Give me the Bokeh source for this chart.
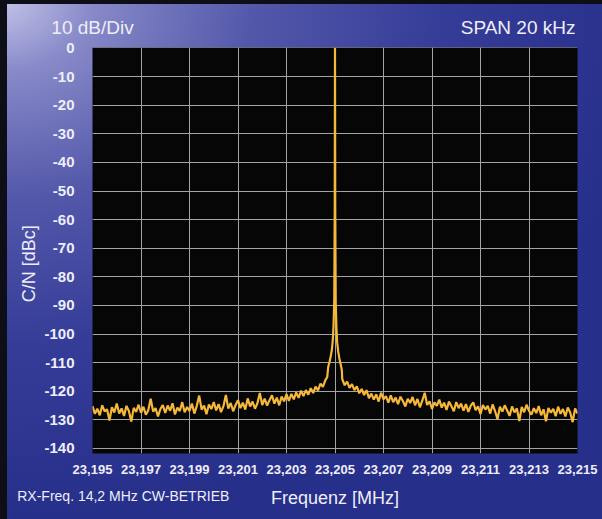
import math
from bokeh.plotting import figure
from bokeh.models import Range1d, FixedTicker, CustomJSTickFormatter, LinearAxis
from bokeh.embed import file_html
from bokeh.resources import INLINE

# ---- data ----
x_ticks = [23.195, 23.197, 23.199, 23.201, 23.203, 23.205, 23.207, 23.209, 23.211, 23.213, 23.215]
y_ticks = [0, -10, -20, -30, -40, -50, -60, -70, -80, -90, -100, -110, -120, -130, -140]

# noise floor left of the carrier: bins from 23.1950 MHz, 0.0001 MHz apart
left_start = 23.1950
bin_step = 0.0001
left_level = [
    -125.2, -127.9, -126.1, -128.4, -124.9, -127.0, -126.3, -130.2, -125.6, -127.4,
    -124.3, -127.8, -126.0, -128.6, -125.1, -126.9, -130.6, -125.8, -127.2, -124.7,
    -127.5, -125.4, -128.2, -126.6, -122.6, -127.1, -125.9, -128.8, -126.2, -124.8,
    -127.6, -125.0, -126.8, -124.2, -128.1, -125.7, -126.9, -123.8, -127.3, -125.5,
    -126.9, -124.3, -127.8, -125.1, -121.5, -126.4, -125.0, -128.0, -124.6, -126.2,
    -123.8, -126.7, -124.5, -127.3, -125.2, -121.3, -126.0, -124.1, -127.0, -124.8,
    -123.1, -125.9, -124.0, -126.4, -122.5, -125.3, -123.6, -126.1, -124.2, -120.6,
    -124.8, -122.6, -125.0, -123.1, -121.4, -124.3, -122.2, -124.9, -121.8, -123.5,
    -121.0, -123.4, -120.9, -122.8, -120.4, -122.3, -119.8, -121.7, -119.6, -121.2,
    -118.9, -120.6, -118.4, -119.7, -117.3, -118.5, -116.2,
]

# carrier and close-in skirt
carrier_freq = [23.20468, 23.20472, 23.20478, 23.20483, 23.20487, 23.20491, 23.20494, 23.20497, 23.20499,
                23.20500,
                23.20501, 23.20503, 23.20506, 23.20509, 23.20513, 23.20518, 23.20523, 23.20528]
carrier_level = [-115.0, -111.5, -109.5, -107.5, -105.5, -102.0, -97.0, -88.0, -55.0,
                 0.0,
                 -55.0, -89.0, -98.0, -103.0, -106.0, -108.5, -110.5, -112.5]

# noise floor right of the carrier: bins from 23.2053 MHz
right_start = 23.2053
right_level = [
    -115.8, -117.9, -116.6, -118.8, -117.5, -119.6, -118.3, -120.7, -119.2, -121.3,
    -119.6, -122.4, -120.8, -122.9, -121.1, -123.6, -120.5, -122.8, -121.7, -124.0,
    -121.4, -123.8, -122.2, -124.5, -121.9, -123.4, -125.3, -122.6, -124.1, -122.0,
    -124.9, -122.7, -125.6, -123.3, -120.5, -124.8, -123.5, -126.2, -123.9, -125.1,
    -122.9, -125.7, -124.0, -126.5, -123.6, -125.2, -127.0, -123.8, -125.9, -124.3,
    -126.8, -124.5, -127.2, -125.0, -123.9, -126.6, -125.3, -127.9, -124.8, -126.4,
    -125.1, -127.8, -124.6, -126.9, -129.8, -125.4, -127.1, -124.9, -126.7, -128.6,
    -125.3, -127.4, -126.0, -130.4, -125.5, -127.3, -124.7, -126.8, -128.2, -125.9,
    -127.6, -125.2, -128.4, -126.3, -130.5, -125.8, -127.5, -126.1, -128.7, -125.4,
    -127.9, -126.2, -128.8, -125.7, -127.4, -130.8, -126.0, -127.8,
]

left_freq = [left_start + i * bin_step for i in range(len(left_level))]
right_freq = [right_start + i * bin_step for i in range(len(right_level))]
freq = left_freq + carrier_freq + right_freq
level = left_level + carrier_level + right_level

# ---- figure ----
LIGHT = "#eeeef8"
FONT = "Liberation Sans"
p = figure(width=602, height=519,
           x_range=Range1d(23.195, 23.215), y_range=Range1d(-141.75, 0.17),
           output_backend="svg", toolbar_location=None,
           min_border_left=92, min_border_right=25, min_border_top=47, min_border_bottom=66)

p.background_fill_color = "#060606"
p.border_fill_alpha = 0.0
p.outline_line_color = None
p.styles = {
    "background": "radial-gradient(ellipse 110% 100% at 0% 0%, #c4c4e8 0%, #8789c8 14%, #5358aa 38%, #363d98 66%, #262f8a 100%)",
    "box-shadow": "inset 7px 4px 0 0 #0e0e16",
}

p.xgrid.grid_line_color = "#a4a4a4"
p.ygrid.grid_line_color = "#a4a4a4"

p.xaxis.ticker = FixedTicker(ticks=x_ticks)
p.yaxis.ticker = FixedTicker(ticks=y_ticks)
p.xaxis.formatter = CustomJSTickFormatter(code="return tick.toFixed(3).replace('.', ',');")
p.yaxis.formatter = CustomJSTickFormatter(code="return tick.toFixed(0);")


def plain(ax):
    ax.axis_line_color = None
    ax.major_tick_line_color = None
    ax.minor_tick_line_color = None
    ax.major_label_text_color = LIGHT
    ax.major_label_text_font = FONT


for ax in (p.xaxis[0], p.yaxis[0]):
    plain(ax)
    ax.major_label_text_font_style = "bold"

p.xaxis.major_label_text_font_size = "13px"
p.yaxis.major_label_text_font_size = "15px"
p.xaxis.major_label_standoff = 5
p.yaxis.major_label_standoff = 12

p.xaxis.axis_label = "Frequenz [MHz]"
p.xaxis.axis_label_text_font = FONT
p.xaxis.axis_label_text_font_style = "normal"
p.xaxis.axis_label_text_font_size = "18px"
p.xaxis.axis_label_text_color = LIGHT
p.xaxis.axis_label_standoff = 11

# header texts (top row)
top_ax = LinearAxis(ticker=FixedTicker(ticks=[23.195, 23.21255]),
                    formatter=CustomJSTickFormatter(code="return tick < 23.2 ? '10 dB/Div' : 'SPAN 20 kHz';"))
plain(top_ax)
top_ax.major_label_text_font_size = "19px"
top_ax.major_label_standoff = 4
p.add_layout(top_ax, "above")

# footer note (bottom row, left)
note_ax = LinearAxis(ticker=FixedTicker(ticks=[23.19627]),
                     formatter=CustomJSTickFormatter(code="return 'RX-Freq. 14,2 MHz CW-BETRIEB';"))
plain(note_ax)
note_ax.major_label_text_font_size = "14px"
note_ax.major_label_standoff = -29
p.add_layout(note_ax, "below")

# vertical axis title
yt_ax = LinearAxis(ticker=FixedTicker(ticks=[-62.0]),
                   formatter=CustomJSTickFormatter(code="return 'C/N [dBc]';"))
plain(yt_ax)
yt_ax.major_label_text_font_size = "18px"
yt_ax.major_label_orientation = math.pi / 2
yt_ax.major_label_standoff = 6
p.add_layout(yt_ax, "left")

# spectrum trace
p.line(freq, level, line_color="#f5b83a", line_width=2.2)

open("out.html", "w").write(file_html(p, INLINE))
